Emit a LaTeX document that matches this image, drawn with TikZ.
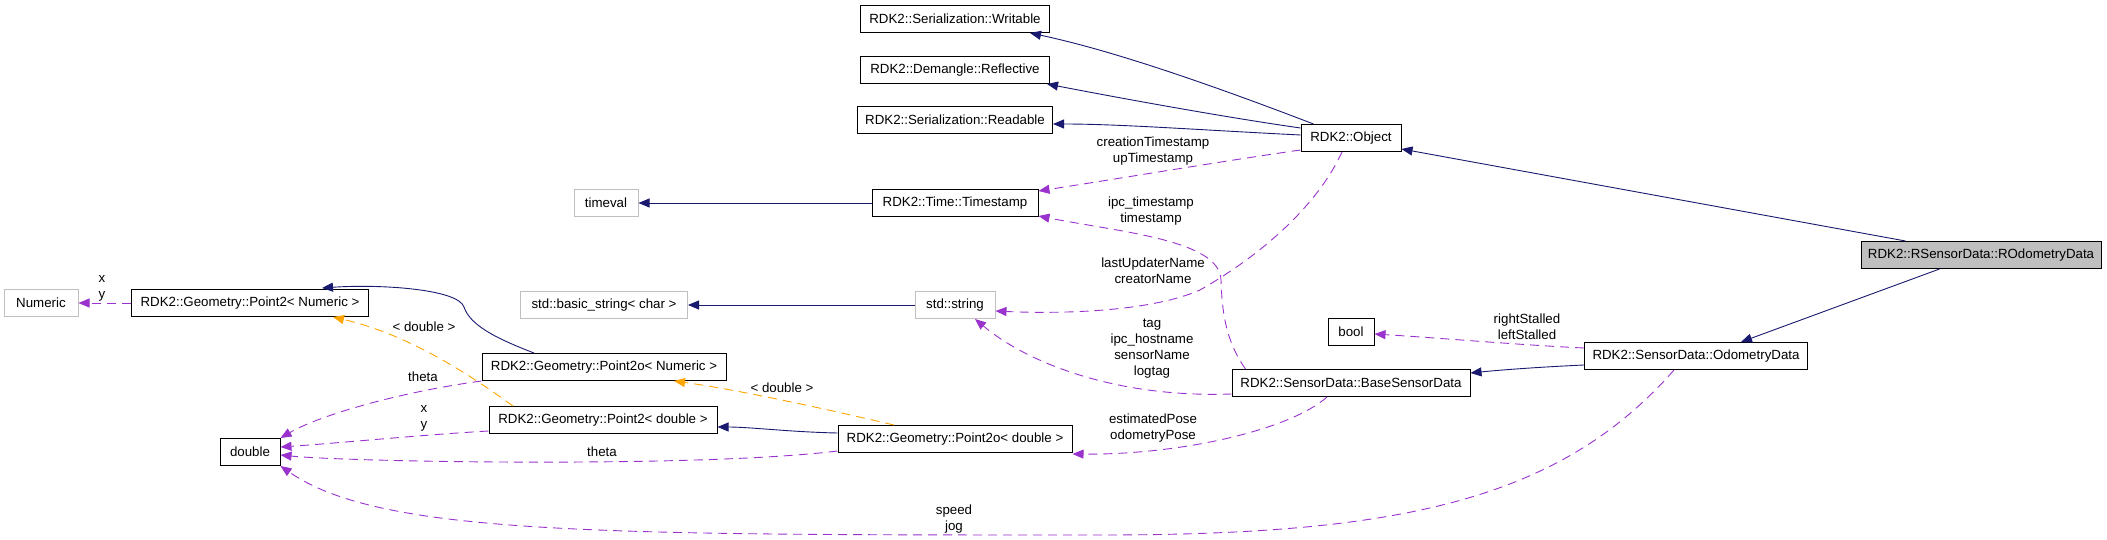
\documentclass[tikz,border=0pt]{standalone}
\usepackage{fontspec}
\setmainfont{Liberation Sans}
\usetikzlibrary{arrows.meta}
\definecolor{inhblue}{HTML}{191970}
\definecolor{usepurple}{HTML}{9A32CD}
\definecolor{tmplorange}{HTML}{FFA500}
\definecolor{extgray}{HTML}{BFBFBF}
\newcommand{\lblfont}{\fontsize{13.3}{16}\selectfont}

\begin{document}
\begin{tikzpicture}[x=1pt,y=-1pt,
  cls/.style={draw,line width=1pt,minimum height=27pt,inner sep=0pt,font=\lblfont},
  ext/.style={cls,draw=extgray},
  inh/.style={draw=inhblue,line width=0.9pt,-{Triangle[length=11pt,width=9pt]}},
  usedby/.style={draw=usepurple,line width=0.9pt,dash pattern=on 9pt off 6pt,-{Triangle[length=11pt,width=9pt]}},
  tmpl/.style={draw=tmplorange,line width=0.9pt,dash pattern=on 9pt off 6pt,-{Triangle[length=11pt,width=9pt]}},
  lbl/.style={font=\lblfont,align=center,inner sep=0pt}]
  \useasboundingbox (0,0) rectangle (2107,540);

  \node[cls,minimum width=189pt] (writable) at (955,19) {RDK2::Serialization::Writable};
  \node[cls,minimum width=189pt] (reflective) at (955,70) {RDK2::Demangle::Reflective};
  \node[cls,minimum width=195pt] (readable) at (955,120) {RDK2::Serialization::Readable};
  \node[cls,minimum width=100pt] (object) at (1351,138) {RDK2::Object};
  \node[cls,fill=extgray,minimum width=240pt] (rodometry) at (1981,255) {RDK2::RSensorData::ROdometryData};
  \node[ext,minimum width=64pt] (timeval) at (606,203) {timeval};
  \node[cls,minimum width=166pt] (timestamp) at (955,203) {RDK2::Time::Timestamp};
  \node[ext,minimum width=74pt] (numeric) at (41,303) {Numeric};
  \node[cls,minimum width=237pt] (pointnum) at (250,303) {RDK2::Geometry::Point2< Numeric >};
  \node[ext,minimum width=167pt] (basicstr) at (604,305) {std::basic\_string< char >};
  \node[ext,minimum width=80pt] (stdstr) at (955,305) {std::string};
  \node[cls,minimum width=244pt] (pointonum) at (604,367) {RDK2::Geometry::Point2o< Numeric >};
  \node[cls,minimum width=46pt] (bool) at (1351,332) {bool};
  \node[cls,minimum width=223pt] (odometry) at (1696,356) {RDK2::SensorData::OdometryData};
  \node[cls,minimum width=238pt] (basesensor) at (1351,383) {RDK2::SensorData::BaseSensorData};
  \node[cls,minimum width=60pt] (double) at (250,452) {double};
  \node[cls,minimum width=228pt] (pointdbl) at (603,420) {RDK2::Geometry::Point2< double >};
  \node[cls,minimum width=234pt] (pointodbl) at (955,439) {RDK2::Geometry::Point2o< double >};

  \draw[inh] ([xshift=13pt]object.north west) .. controls (1230,92) and (1120,52) .. ([xshift=-20pt]writable.south east);
  \draw[inh] ([yshift=-4pt]object.north west) .. controls (1230,118) and (1130,100) .. ([xshift=-3pt]reflective.south east);
  \draw[inh] ([yshift=-11pt]object.north west) .. controls (1200,130) and (1120,124) .. ([yshift=-4pt]readable.east);
  \draw[inh] ([xshift=45pt]rodometry.north west) -- ([yshift=3pt]object.south east);
  \draw[inh] ([xshift=79pt]rodometry.south west) -- ([xshift=45pt]odometry.north);
  \draw[inh] ([yshift=-9pt]odometry.west) .. controls (1540,367) and (1500,370) .. ([yshift=10pt]basesensor.east);
  \draw[inh] (timestamp.west) -- (timeval.east);
  \draw[inh] (stdstr.west) -- (basicstr.east);
  \draw[inh] ([yshift=6pt]pointodbl.west) .. controls (790,432) and (750,427) .. ([yshift=-7pt]pointdbl.east);
  \draw[inh] ([xshift=-70pt]pointonum.north) .. controls (495,338) and (470,325) .. (464,307)
    .. controls (458,289) and (380,284) .. ([xshift=-47pt,yshift=1pt]pointnum.north east);

  \draw[tmpl] ([xshift=-90pt]pointdbl.north) .. controls (470,375) and (410,335) .. ([xshift=83pt]pointnum.south);
  \draw[tmpl] ([xshift=-61pt]pointodbl.north) .. controls (830,410) and (740,390) .. ([xshift=70pt]pointonum.south);

  \draw[usedby] (pointnum.west) -- (numeric.east);
  \draw[usedby] (pointonum.south west) .. controls (400,392) and (320,415) .. (double.north east);
  \draw[usedby] ([yshift=-11pt]pointdbl.west) .. controls (420,435) and (340,443) .. ([yshift=5pt]double.east);
  \draw[usedby] ([yshift=-12pt]pointodbl.west) .. controls (700,468) and (350,462) .. ([yshift=-3pt]double.east);
  \draw[usedby] ([xshift=-22pt]odometry.south) .. controls (1560,500) and (1400,535) .. (1100,535)
    .. controls (600,535) and (380,535) .. (double.south east);
  \draw[usedby] ([yshift=2pt]object.south west) .. controls (1230,160) and (1110,180) .. ([yshift=-2pt]timestamp.north east);
  \draw[usedby] ([xshift=14pt]basesensor.north west) .. controls (1225,340) and (1222,310) .. (1221,280)
    .. controls (1220,240) and (1120,232) .. ([yshift=1pt]timestamp.south east);
  \draw[usedby] ([xshift=-9pt]object.south) .. controls (1320,200) and (1270,250) .. (1200,290)
    .. controls (1150,312) and (1060,314) .. ([yshift=-6pt]stdstr.east);
  \draw[usedby] ([yshift=-11pt]basesensor.west) .. controls (1120,398) and (1030,365) .. ([xshift=20pt]stdstr.south);
  \draw[usedby] ([xshift=-24pt]basesensor.south) .. controls (1290,430) and (1180,455) .. ([yshift=-15pt]pointodbl.east);
  \draw[usedby] ([yshift=8pt]odometry.west) .. controls (1520,345) and (1440,338) .. ([yshift=-2pt]bool.east);

  \node[lbl] (lxy) at (102,288) {x\\y};
  \node[lbl] (ldoublea) at (424,327) {< double >};
  \node[lbl] (ltheta) at (423,377) {theta};
  \node[lbl] (lxyb) at (424,418) {x\\y};
  \node[lbl] (lthetab) at (602,452) {theta};
  \node[lbl] (lspeed) at (954,519) {speed\\jog};
  \node[lbl] (ldoubleb) at (782,388) {< double >};
  \node[lbl] (lcreation) at (1153,151) {creationTimestamp\\upTimestamp};
  \node[lbl] (lipc) at (1151,211) {ipc\_timestamp\\timestamp};
  \node[lbl] (lupdater) at (1153,271) {lastUpdaterName\\creatorName};
  \node[lbl] (ltag) at (1152,349) {tag\\ipc\_hostname\\sensorName\\logtag};
  \node[lbl] (lpose) at (1153,428) {estimatedPose\\odometryPose};
  \node[lbl] (lstalled) at (1527,327) {rightStalled\\leftStalled};
\end{tikzpicture}
\end{document}
